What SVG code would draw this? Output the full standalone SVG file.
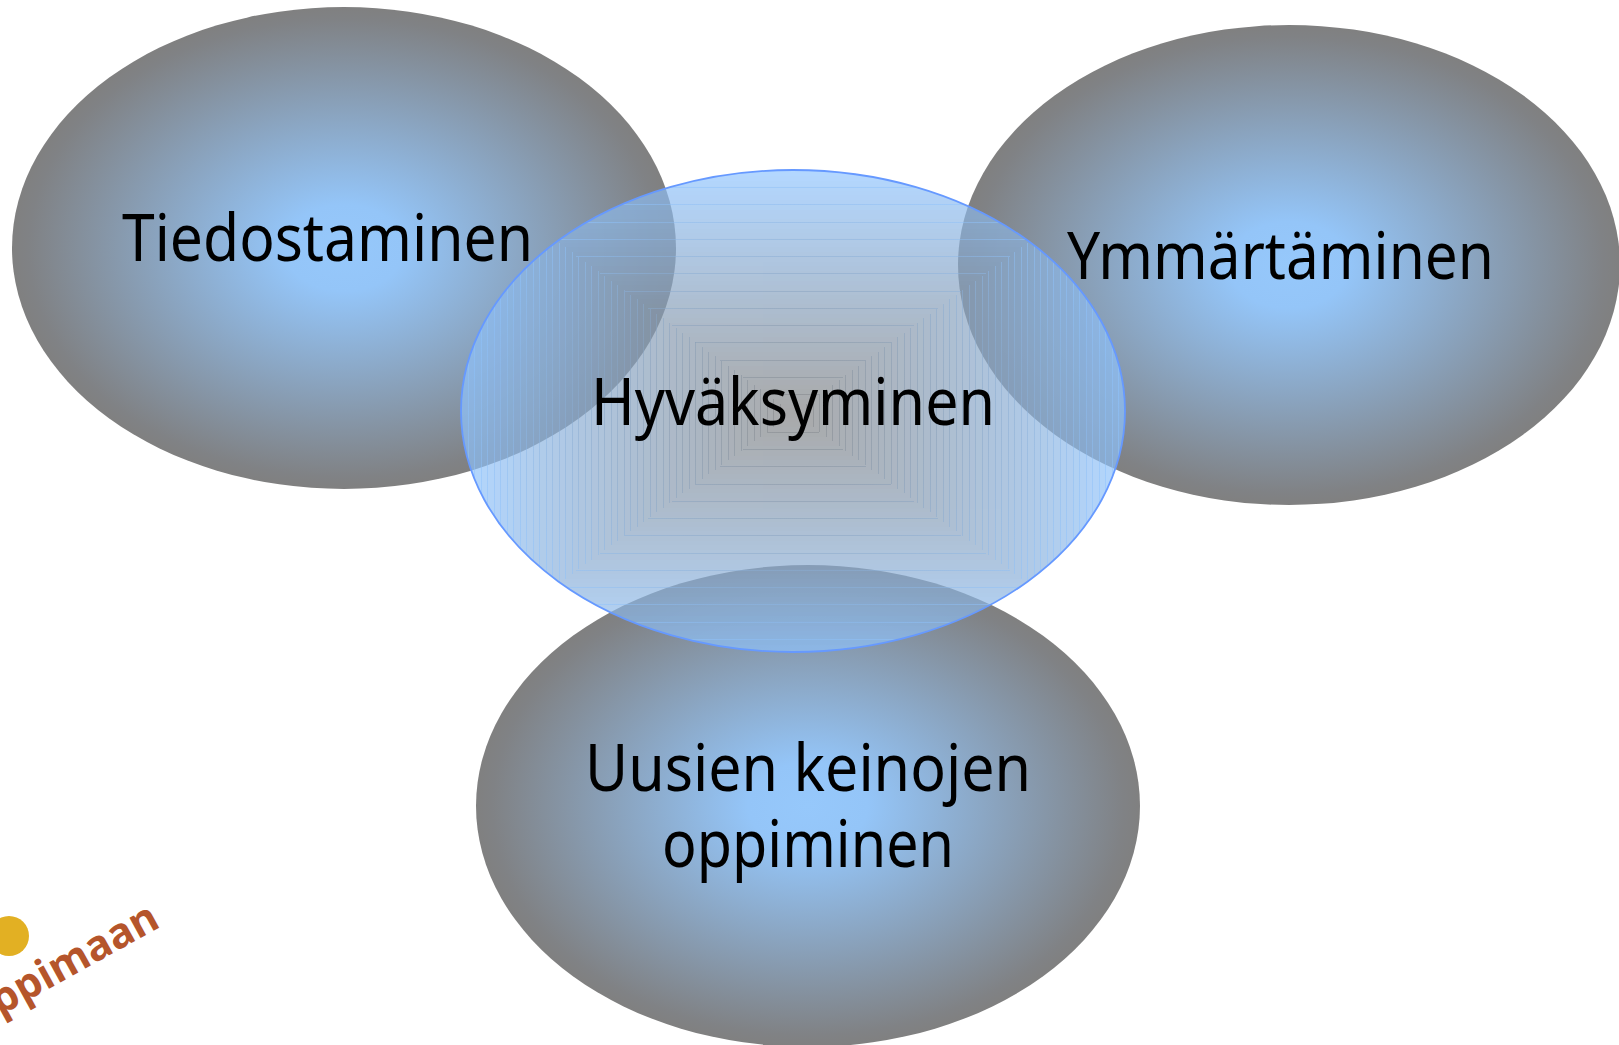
<svg xmlns="http://www.w3.org/2000/svg" width="1619" height="1045" viewBox="0 0 1619 1045">
<style>
text{font-family:"Noto Sans","DejaVu Sans",sans-serif;font-size:65px;fill:#000}
.logo{font-family:"Open Sans","Noto Sans",sans-serif;font-size:42px;font-weight:700;fill:#b5552b}
.seam{fill:none;stroke:url(#lg);stroke-opacity:.5;stroke-width:1;shape-rendering:crispEdges}
</style>
<defs>
<radialGradient id="g" cx=".5" cy=".5" r=".5">
<stop offset="0" stop-color="#96c8fb"/><stop offset=".18" stop-color="#94c5f8"/><stop offset=".95" stop-color="#808285"/><stop offset="1" stop-color="#808080"/>
</radialGradient>
<radialGradient id="lg" gradientUnits="userSpaceOnUse" cx="0" cy="0" r="1" gradientTransform="translate(793 413) scale(332 241)">
<stop offset="0" stop-color="#808080"/><stop offset="1" stop-color="#8fc4ff"/>
</radialGradient>
<clipPath id="ce"><ellipse cx="793" cy="411" rx="332" ry="241"/></clipPath>
</defs>
<rect width="1619" height="1045" fill="#fff"/>
<g id="logo"><circle cx="9" cy="936" r="20" fill="#e2b023"/><text class="logo" x="162" y="926" text-anchor="end" transform="rotate(-29 162 926)">oppimaan</text></g>
<g id="tiedostaminen-shape"><ellipse cx="344" cy="248" rx="332" ry="241" fill="url(#g)"/></g>
<g id="ymmartaminen-shape"><ellipse cx="1289" cy="265" rx="331" ry="240" fill="url(#g)"/></g>
<g id="uusien-shape"><ellipse cx="808" cy="806" rx="332" ry="241" fill="url(#g)"/></g>
<g id="hyvaksyminen-shape">
<g clip-path="url(#ce)"><g id="bands" opacity=".68">
<rect x="440" y="150" width="710" height="520" fill="rgb(143,196,255)"/>
<rect x="468" y="176" width="650" height="474" fill="rgb(143,195,252)"/>
<rect x="474" y="181" width="638" height="464" fill="rgb(142,193,250)"/>
<rect x="481" y="186" width="624" height="454" fill="rgb(142,192,247)"/>
<rect x="487" y="191" width="612" height="444" fill="rgb(142,191,245)"/>
<rect x="494" y="195" width="598" height="436" fill="rgb(142,189,243)"/>
<rect x="500" y="200" width="586" height="426" fill="rgb(141,188,240)"/>
<rect x="507" y="205" width="572" height="416" fill="rgb(141,187,238)"/>
<rect x="513" y="210" width="560" height="406" fill="rgb(141,185,235)"/>
<rect x="520" y="214" width="546" height="398" fill="rgb(140,184,233)"/>
<rect x="526" y="219" width="534" height="388" fill="rgb(140,183,230)"/>
<rect x="533" y="224" width="520" height="378" fill="rgb(140,181,228)"/>
<rect x="539" y="229" width="508" height="368" fill="rgb(139,180,225)"/>
<rect x="546" y="233" width="494" height="360" fill="rgb(139,179,223)"/>
<rect x="552" y="238" width="482" height="350" fill="rgb(139,177,220)"/>
<rect x="559" y="243" width="468" height="340" fill="rgb(139,176,218)"/>
<rect x="565" y="247" width="456" height="332" fill="rgb(138,175,215)"/>
<rect x="572" y="252" width="442" height="322" fill="rgb(138,173,213)"/>
<rect x="578" y="257" width="430" height="312" fill="rgb(138,172,210)"/>
<rect x="585" y="262" width="416" height="302" fill="rgb(137,171,208)"/>
<rect x="591" y="266" width="404" height="294" fill="rgb(137,169,205)"/>
<rect x="598" y="271" width="390" height="284" fill="rgb(137,168,203)"/>
<rect x="604" y="276" width="378" height="274" fill="rgb(137,167,200)"/>
<rect x="611" y="281" width="364" height="264" fill="rgb(136,165,198)"/>
<rect x="617" y="285" width="352" height="256" fill="rgb(136,164,195)"/>
<rect x="624" y="290" width="338" height="246" fill="rgb(136,163,193)"/>
<rect x="630" y="295" width="326" height="236" fill="rgb(135,161,190)"/>
<rect x="637" y="299" width="312" height="228" fill="rgb(135,160,188)"/>
<rect x="643" y="304" width="300" height="218" fill="rgb(135,159,185)"/>
<rect x="650" y="309" width="286" height="208" fill="rgb(134,157,183)"/>
<rect x="656" y="314" width="274" height="198" fill="rgb(134,156,180)"/>
<rect x="663" y="318" width="260" height="190" fill="rgb(134,155,178)"/>
<rect x="669" y="323" width="248" height="180" fill="rgb(134,153,175)"/>
<rect x="676" y="328" width="234" height="170" fill="rgb(133,152,173)"/>
<rect x="682" y="333" width="222" height="160" fill="rgb(133,151,170)"/>
<rect x="689" y="337" width="208" height="152" fill="rgb(133,149,168)"/>
<rect x="695" y="342" width="196" height="142" fill="rgb(132,148,165)"/>
<rect x="702" y="347" width="182" height="132" fill="rgb(132,147,163)"/>
<rect x="708" y="352" width="170" height="122" fill="rgb(132,145,160)"/>
<rect x="715" y="356" width="156" height="114" fill="rgb(132,144,158)"/>
<rect x="721" y="361" width="144" height="104" fill="rgb(131,143,155)"/>
<rect x="728" y="366" width="130" height="94" fill="rgb(131,141,153)"/>
<rect x="734" y="370" width="118" height="86" fill="rgb(131,140,150)"/>
<rect x="741" y="375" width="104" height="76" fill="rgb(130,139,148)"/>
<rect x="747" y="380" width="92" height="66" fill="rgb(130,137,145)"/>
<rect x="754" y="385" width="78" height="56" fill="rgb(130,136,143)"/>
<rect x="760" y="389" width="66" height="48" fill="rgb(129,135,140)"/>
<rect x="767" y="394" width="52" height="38" fill="rgb(129,133,138)"/>
<rect x="773" y="399" width="40" height="28" fill="rgb(129,132,135)"/>
<rect x="780" y="404" width="26" height="18" fill="rgb(129,131,133)"/>
<rect x="786" y="408" width="14" height="10" fill="rgb(128,129,130)"/>
</g>
<path class="seam" d="M780 404V422M806 404V422M773 399V427M813 399V427M767 394V432M819 394V432M760 389V437M826 389V437M754 385V441M832 385V441M747 380V446M839 380V446M741 375V451M845 375V451M734 370V456M852 370V456M728 366V460M858 366V460M721 361V465M865 361V465M715 356V470M871 356V470M708 352V474M878 352V474M702 347V479M884 347V479M695 342V484M891 342V484M689 337V489M897 337V489M682 333V493M904 333V493M676 328V498M910 328V498M669 323V503M917 323V503M663 318V508M923 318V508M656 314V512M930 314V512M650 309V517M936 309V517M643 304V522M943 304V522M637 299V527M949 299V527M630 295V531M956 295V531M624 290V536M962 290V536M617 285V541M969 285V541M611 281V545M975 281V545M604 276V550M982 276V550M598 271V555M988 271V555M591 266V560M995 266V560M585 262V564M1001 262V564M578 257V569M1008 257V569M572 252V574M1014 252V574M565 247V579M1021 247V579M559 243V583M1027 243V583M552 238V588M1034 238V588M546 233V593M1040 233V593M539 229V597M1047 229V597M533 224V602M1053 224V602M526 219V607M1060 219V607M520 214V612M1066 214V612M513 210V616M1073 210V616M507 205V621M1079 205V621M500 200V626M1086 200V626M494 195V631M1092 195V631M487 191V635M1099 191V635M481 186V640M1105 186V640M474 181V645M1112 181V645M468 176V650M1118 176V650"/>
<path class="seam" d="M767 394H819M767 432H819M743 377H843M743 449H843M720 360H866M720 466H866M695 342H891M695 484H891M672 325H914M672 501H914M648 308H938M648 518H938M625 291H961M625 535H961M600 273H986M600 553H986M576 256H1010M576 570H1010M553 239H1033M553 587H1033M529 222H1057M529 604H1057M505 204H1081M505 622H1081M481 187H1105M481 639H1105"/>
</g>
<ellipse cx="793" cy="411" rx="332" ry="241" fill="none" stroke="#6699ff" stroke-width="1.800"/>
</g>
<g id="labels">
<text x="122" y="261" textLength="411" lengthAdjust="spacingAndGlyphs">Tiedostaminen</text>
<text x="1067" y="279" textLength="427" lengthAdjust="spacingAndGlyphs">Ymmärtäminen</text>
<text x="591" y="425" textLength="404" lengthAdjust="spacingAndGlyphs">Hyväksyminen</text>
<text x="585" y="791" textLength="446" lengthAdjust="spacingAndGlyphs">Uusien keinojen</text>
<text x="662" y="867" textLength="292" lengthAdjust="spacingAndGlyphs">oppiminen</text>
</g>
</svg>
